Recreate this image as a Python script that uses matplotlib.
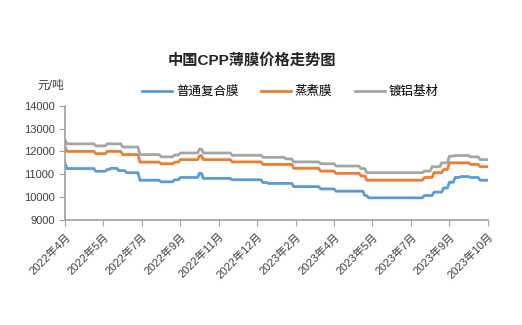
import numpy as np
import matplotlib.pyplot as plt

plt.rcParams['font.family'] = ['Liberation Sans', 'Noto Sans CJK SC', 'DejaVu Sans']

tick_labels = ['2022年4月', '2022年5月', '2022年7月', '2022年9月', '2022年11月', '2022年12月',
               '2023年2月', '2023年4月', '2023年5月', '2023年7月', '2023年9月', '2023年10月']
n_days = 221

# step changes: (day index where price changes, price)
blue_days = [0, 1, 16, 22, 24, 28, 32, 39, 50, 57, 60, 70, 72, 87, 103, 106, 119, 133, 141,
             156, 158, 187, 192, 197, 200, 203, 206, 211, 216]
blue_vals = [11500, 11250, 11130, 11210, 11260, 11160, 11070, 10740, 10670, 10760, 10860, 11040,
             10820, 10760, 10640, 10600, 10460, 10360, 10260, 10070, 9970, 10070, 10220, 10400,
             10650, 10860, 10900, 10860, 10740]

orange_days = [0, 1, 16, 22, 30, 39, 50, 57, 60, 70, 72, 87, 103, 119, 133, 141, 154, 157,
               187, 192, 197, 200, 211, 216]
orange_vals = [12210, 12000, 11900, 12000, 11860, 11530, 11460, 11530, 11640, 11810, 11640,
               11540, 11430, 11260, 11140, 11040, 10930, 10740, 10860, 11070, 11210, 11500,
               11430, 11330]

gray_days = [0, 1, 16, 22, 30, 39, 50, 57, 60, 70, 72, 87, 103, 115, 119, 133, 141, 154, 157,
             187, 191, 196, 200, 203, 211, 216]
gray_vals = [12500, 12330, 12240, 12330, 12190, 11860, 11760, 11840, 11930, 12100, 11930,
             11830, 11740, 11670, 11540, 11460, 11360, 11250, 11070, 11140, 11330, 11500,
             11790, 11820, 11760, 11640]


def expand(days, vals):
    lengths = np.diff(days + [n_days])
    return np.repeat(vals, lengths)


x = np.arange(n_days)
series = [('普通复合膜', blue_days, blue_vals, '#5B9BD5'),
          ('蒸煮膜', orange_days, orange_vals, '#ED7D31'),
          ('镀铝基材', gray_days, gray_vals, '#A5A5A5')]

fig = plt.figure(figsize=(5.22, 3.25), dpi=100)
ax = fig.add_axes([0.1245, 0.323, 0.810, 0.352])

for name, d, v, c in series:
    ax.plot(x, expand(d, v), color=c, lw=2.0, label=name)

ax.set_xlim(0, n_days - 1)
ax.set_ylim(9000, 14000)
ax.set_yticks(np.arange(9000, 14001, 1000))
ax.set_xticks(np.arange(0, n_days, 20))
ax.set_xticklabels(tick_labels, rotation=45, ha='right', rotation_mode='anchor')
ax.tick_params(axis='both', labelsize=8, colors='#404040', length=4, color='#A0A0A0')
ax.tick_params(axis='x', pad=4)
for s in ['top', 'right']:
    ax.spines[s].set_visible(False)
for s in ['left', 'bottom']:
    ax.spines[s].set_color('#A0A0A0')
    ax.spines[s].set_linewidth(1.2)

fig.text(0.483, 0.815, '中国CPP薄膜价格走势图', ha='center', va='center',
         fontsize=11, fontweight='bold', color='#222222')
fig.text(0.097, 0.735, '元/吨', ha='center', va='center', fontsize=8.5, color='#404040')
fig.legend(loc='center', bbox_to_anchor=(0.556, 0.717), ncol=3, frameon=False,
           fontsize=9, handlelength=2.4, columnspacing=1.8, handletextpad=0.3)

fig.savefig('out.png', dpi=100)
